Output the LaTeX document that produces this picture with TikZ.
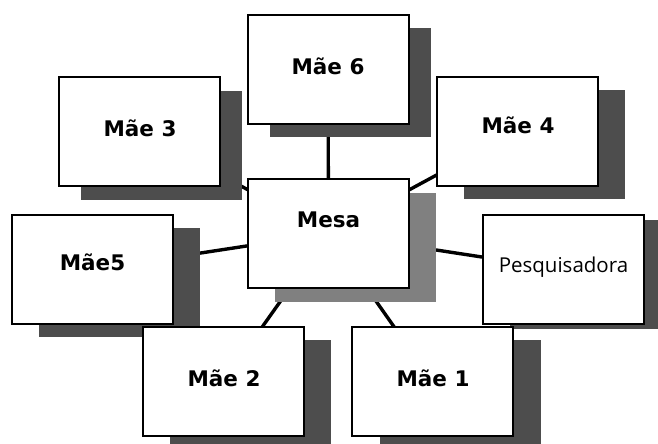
\documentclass[tikz,border=0pt]{standalone}
\usepackage{fontspec}
\newfontfamily\cardfont{DejaVu Sans}
\newfontfamily\namefont{Open Sans}
\usetikzlibrary{shadows,backgrounds}
\definecolor{shadowdark}{HTML}{4D4D4D}
\definecolor{shadowmid}{HTML}{808080}
\begin{document}
\begin{tikzpicture}[x=1pt,y=-1pt,
  card/.style={draw=black, line width=2pt, fill=white,
    minimum width=161pt, minimum height=109pt, inner sep=0pt},
  castshadow/.style n args={3}{general shadow={fill=#1,
    shadow xshift=#2, shadow yshift=#3}},
  link/.style={draw=black, line width=3.4pt},
  cardtext/.style={anchor=base, inner sep=0pt,
    font=\cardfont\bfseries\fontsize{21.5}{25}\selectfont},
  plaintext/.style={anchor=base, inner sep=0pt,
    font=\namefont\fontsize{20.5}{24}\selectfont}
]
\useasboundingbox (0,0) rectangle (658,444);
\clip (0,0) rectangle (658,444);

% boxes with their cast shadows (order sets the overlaps)
\node[card, castshadow={shadowdark}{22pt}{-13pt}] (m6) at (328,69.5) {};
\node[card, castshadow={shadowdark}{22pt}{-14pt}] (m3) at (139.5,131) {};
\node[card, castshadow={shadowdark}{27pt}{-13pt}] (m4) at (517,131.5) {};
\node[card, castshadow={shadowmid}{27pt}{-13.5pt}] (mesa) at (328.5,233.5) {};
\node[card, castshadow={shadowdark}{27pt}{-13pt}] (m5) at (92.5,269.5) {};
\node[card, castshadow={shadowdark}{27pt}{-5pt}] (pesq) at (563.5,269.5) {};
\node[card, castshadow={shadowdark}{27pt}{-13pt}] (m2) at (223.5,381.5) {};
\node[card, castshadow={shadowdark}{28pt}{-13pt}] (m1) at (432.5,381.5) {};

% labels
\node[cardtext] (t6) at ([yshift=-5pt]m6.center) {Mãe 6};
\node[cardtext] (t3) at ([xshift=0.5pt,yshift=-5.5pt]m3.center) {Mãe 3};
\node[cardtext] (t4) at ([xshift=1pt,yshift=-2pt]m4.center) {Mãe 4};
\node[cardtext] (tmesa) at ([yshift=6pt]mesa.center) {Mesa};
\node[cardtext] (t5) at ([yshift=-1pt]m5.center) {Mãe5};
\node[plaintext] (tp) at ([yshift=-3pt]pesq.center) {Pesquisadora};
\node[cardtext] (t2) at ([xshift=0.5pt,yshift=-5pt]m2.center) {Mãe 2};
\node[cardtext] (t1) at ([xshift=0.5pt,yshift=-5pt]m1.center) {Mãe 1};

% spokes from the table to every participant, behind the boxes
\begin{scope}[on background layer]
  \draw[link] (mesa.center) -- (m6.center);
  \draw[link] (mesa.center) -- (m3.center);
  \draw[link] (mesa.center) -- (m4.center);
  \draw[link] (mesa.center) -- (m5.center);
  \draw[link] (mesa.center) -- (pesq.center);
  \draw[link] (mesa.center) -- (m2.center);
  \draw[link] (mesa.center) -- (m1.center);
\end{scope}
\end{tikzpicture}
\end{document}
